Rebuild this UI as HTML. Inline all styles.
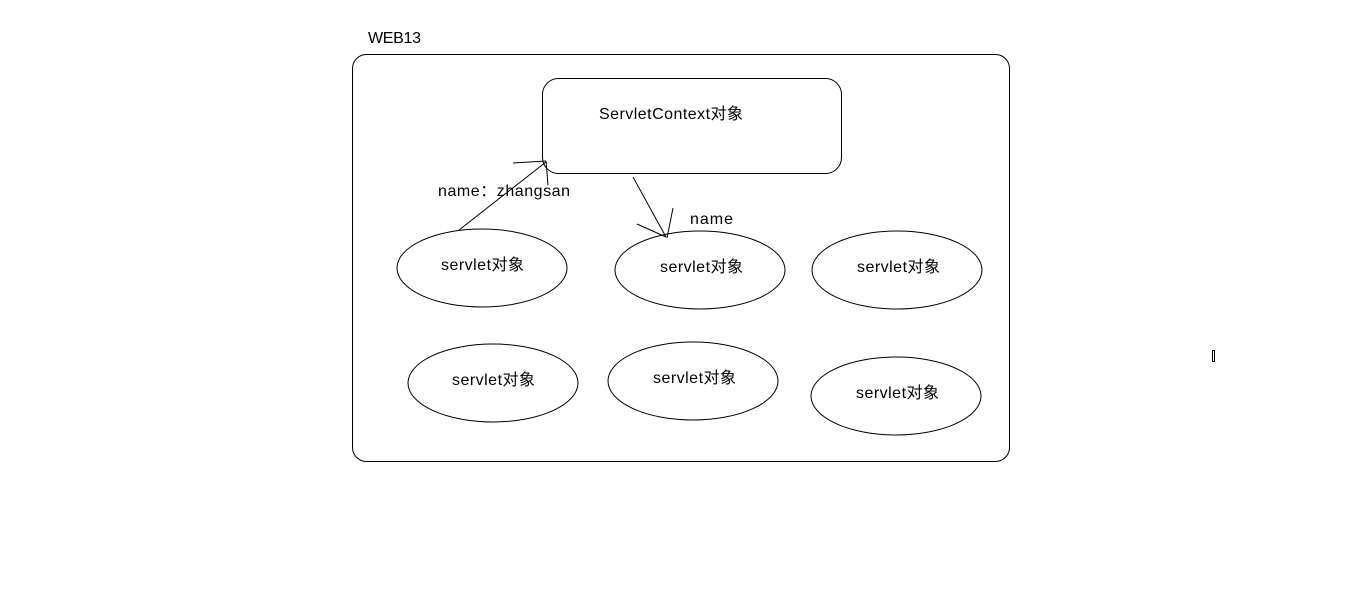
<!DOCTYPE html>
<html><head><style>
body{margin:0;background:#fff;width:1350px;height:609px;overflow:hidden}
svg text{font-family:"Liberation Sans","Noto Sans CJK SC",sans-serif;font-size:16px;fill:#000}
</style></head><body>
<svg width="1350" height="609" xmlns="http://www.w3.org/2000/svg">
<g fill="none" stroke="#000" stroke-width="1">
<rect x="352.5" y="54.5" width="657" height="407" rx="14"/>
<rect x="542.5" y="78.5" width="299" height="95" rx="16"/>
<ellipse cx="482" cy="268" rx="85" ry="39"/>
<ellipse cx="700" cy="270" rx="85" ry="39"/>
<ellipse cx="897" cy="270" rx="85" ry="39"/>
<ellipse cx="493" cy="383" rx="85" ry="39"/>
<ellipse cx="693" cy="381" rx="85" ry="39"/>
<ellipse cx="896" cy="396" rx="85" ry="39"/>
<line x1="459" y1="230" x2="546" y2="162"/>
<line x1="513" y1="163" x2="546" y2="161"/>
<line x1="546" y1="161" x2="548" y2="185"/>
<line x1="633" y1="177" x2="666" y2="237"/>
<line x1="637" y1="224" x2="666" y2="237"/>
<line x1="673" y1="208" x2="667" y2="238"/>
<rect x="1212.5" y="350.5" width="2" height="11"/>
</g>
<text x="368" y="43" textLength="53">WEB13</text>
<text x="599" y="119" textLength="144">ServletContext对象</text>
<text x="438" y="196" textLength="132">name：zhangsan</text>
<text x="690" y="224" textLength="43">name</text>
<text x="441" y="270" textLength="83">servlet对象</text>
<text x="660" y="272" textLength="83">servlet对象</text>
<text x="857" y="272" textLength="83">servlet对象</text>
<text x="452" y="385" textLength="83">servlet对象</text>
<text x="653" y="383" textLength="83">servlet对象</text>
<text x="856" y="398" textLength="83">servlet对象</text>
</svg>
</body></html>
